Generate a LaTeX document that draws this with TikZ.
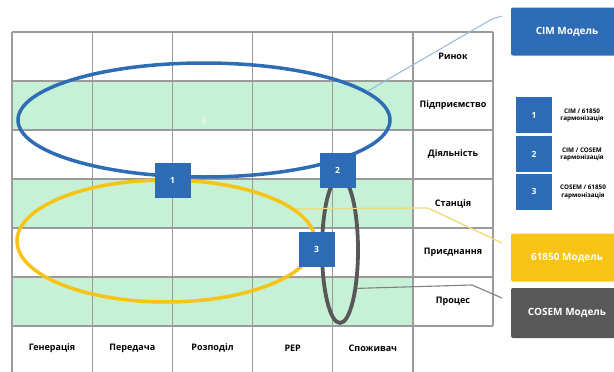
\documentclass[tikz,border=0pt]{standalone}
\usepackage{fontspec}
\setmainfont{Open Sans}
\usetikzlibrary{shapes.geometric}
\definecolor{mintgreen}{RGB}{198,241,214}
\definecolor{cimblue}{RGB}{46,109,182}
\definecolor{cimline}{RGB}{150,182,220}
\definecolor{iecyellow}{RGB}{247,196,22}
\definecolor{iecline}{RGB}{240,218,120}
\definecolor{cosemgray}{RGB}{88,88,88}
\definecolor{gridgray}{RGB}{155,155,155}

\begin{document}
\begin{tikzpicture}[x=1pt, y=-1pt,
    rowlabel/.style={font=\bfseries\fontsize{9}{10}\selectfont},
    numbox/.style={fill=cimblue, text=white, minimum width=36pt, minimum height=35pt, inner sep=0pt, font=\bfseries\fontsize{8.5}{9}\selectfont},
    modelbox/.style={rounded corners=2pt, text=white, minimum width=112pt, minimum height=48pt, inner sep=0pt, font=\bfseries\fontsize{10}{11}\selectfont},
    legendtext/.style={font=\bfseries\fontsize{6.3}{7.5}\selectfont, align=center, inner sep=0pt},
    ring/.style={ellipse, draw, line width=3.5pt, inner sep=0pt}]
    \useasboundingbox (0,0) rectangle (614,372);

    % Green rows
    \foreach \r in {81,179,277}
        \fill[mintgreen] (12,\r) rectangle (413,\r+49);

    % Grid
    \foreach \r in {32,81,...,326}
        \draw[gridgray, line width=1.2pt] (12,\r) -- (493,\r);
    \foreach \c in {0,...,5}
        \draw[gridgray, line width=1.2pt] (12+80.2*\c,32) -- (12+80.2*\c,372);
    \draw[gridgray, line width=1.2pt] (493,32) -- (493,326);

    % Row labels
    \foreach \txt [count=\i] in {Ринок,Підприємство,Діяльність,Станція,Приєднання,Процес}
        \node[rowlabel] (row\i) at (453,7.5+49*\i) {\txt};

    % Column labels
    \foreach \txt [count=\i] in {Генерація,Передача,Розподіл,РЕР,Споживач}
        \node[rowlabel] (col\i) at (-28.1+80.2*\i,348) {\txt};

    % CIM area
    \node[ring, cimblue, minimum width=372pt, minimum height=114pt] (cimring) at (204,120) {};
    \node[text=white, opacity=0.7, font=\bfseries\fontsize{8}{9}\selectfont] (faint3) at (204,121) {3};

    % 61850 area
    \node[ring, iecyellow, minimum width=298pt, minimum height=122pt] (iecring) at (166,241) {};

    % COSEM area
    \node[ring, cosemgray, line width=3.8pt, minimum width=36pt, minimum height=146pt] (cosemring) at (340,250) {};

    % Model boxes
    \node[modelbox, fill=cimblue] (cimbox) at (567,31.5) {CIM Модель};
    \node[modelbox, fill=iecyellow] (iecbox) at (567,257.5) {61850 Модель};
    \node[modelbox, fill=cosemgray, minimum height=50pt] (cosembox) at (567,313) {COSEM Модель};

    % Connectors
    \coordinate (cimtip) at (502,16);
    \coordinate (iectip) at (502,243);
    \coordinate (cosemtip) at (502,298);
    \draw[cimline, line width=1pt] (cimring.10) -- (492,19) -- (cimtip);
    \draw[iecline, line width=1.3pt] (iecring.14) -- (428,208) -- (iectip);
    \draw[gray, line width=1.1pt] (cosemring.-66) -- (472,285) -- (cosemtip);

    % Harmonisation boxes
    \node[numbox] (harm1) at (172.5,180.5) {1};
    \node[numbox] (harm2) at (337.5,170.5) {2};
    \node[numbox] (harm3) at (316.5,249.5) {3};

    % Legend
    \node[numbox, minimum height=36pt] (leg1) at (534,115) {1};
    \node[numbox, minimum height=36pt] (leg2) at (534,154) {2};
    \node[numbox, minimum height=36pt] (leg3) at (534,191.5) {3};
    \node[legendtext] (legtext1) at (582,115.5) {CIM / 61850\\гармонізація};
    \node[legendtext] (legtext2) at (582,154.5) {CIM / COSEM\\гармонізація};
    \node[legendtext] (legtext3) at (583,192) {COSEM / 61850\\гармонізація};
\end{tikzpicture}
\end{document}
